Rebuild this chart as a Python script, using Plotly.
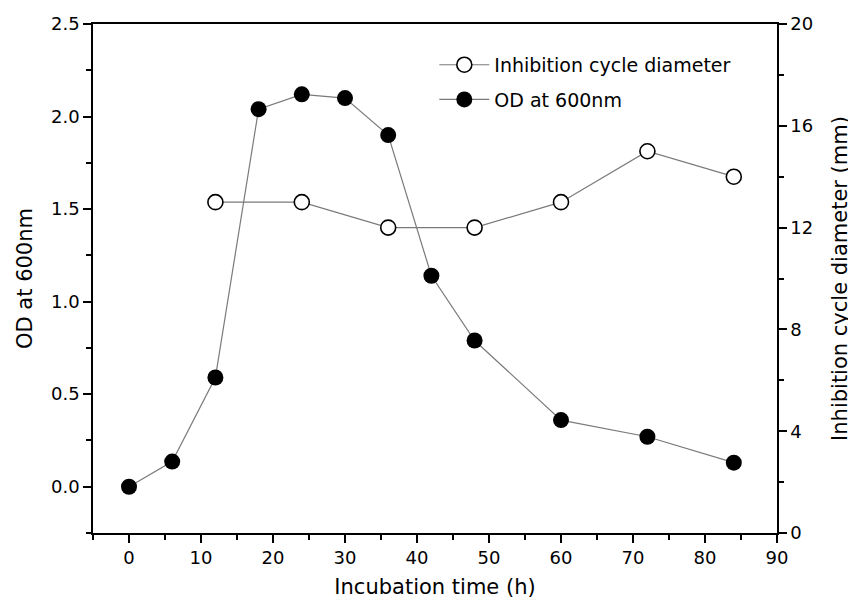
import plotly.graph_objects as go

# Data
time_od = [0, 6, 12, 18, 24, 30, 36, 42, 48, 60, 72, 84]
od600 = [0.0, 0.136, 0.59, 2.04, 2.12, 2.10, 1.90, 1.14, 0.79, 0.36, 0.27, 0.13]
time_inh = [12, 24, 36, 48, 60, 72, 84]
inhibition = [13.0, 13.0, 12.0, 12.0, 13.0, 15.0, 14.0]

x_ticks = [0, 10, 20, 30, 40, 50, 60, 70, 80, 90]
y_left_ticks = [0.0, 0.5, 1.0, 1.5, 2.0, 2.5]
y_right_ticks = [0, 4, 8, 12, 16, 20]

FONT = "DejaVu Sans"
LINE_COLOR = "#7a7a7a"

fig = go.Figure()

fig.add_trace(go.Scatter(
    x=time_inh, y=inhibition, yaxis="y2", mode="lines+markers",
    name="Inhibition cycle diameter", legendgroup="a",
    line=dict(color=LINE_COLOR, width=1.2),
    marker=dict(symbol="circle", size=15, color="white",
                line=dict(color="black", width=1.6)),
))
fig.add_trace(go.Scatter(
    x=time_od, y=od600, yaxis="y", mode="lines+markers",
    name="OD at 600nm", legendgroup="b",
    line=dict(color=LINE_COLOR, width=1.2),
    marker=dict(symbol="circle", size=16, color="black",
                line=dict(color="black", width=0)),
))

axis_common = dict(
    showline=True, linecolor="black", linewidth=1.5,
    ticks="outside", ticklen=8, tickwidth=1.5, tickcolor="black",
    showgrid=False, zeroline=False, automargin=False,
    tickfont=dict(family=FONT, size=18, color="black"),
)

fig.update_layout(
    width=848, height=600,
    margin=dict(l=85, r=79, t=16, b=75),
    paper_bgcolor="white", plot_bgcolor="white",
    font=dict(family=FONT, color="black"),
    xaxis=dict(
        range=[-5, 90], tickvals=x_ticks, mirror=True,
        title=dict(text="Incubation time (h)", font=dict(family=FONT, size=21), standoff=12),
        minor=dict(dtick=5, tick0=0, ticks="outside", ticklen=5, tickwidth=1.5, tickcolor="black"),
        **axis_common,
    ),
    yaxis=dict(
        range=[-0.25, 2.5], tickvals=y_left_ticks, tickformat=".1f",
        title=dict(text="OD at 600nm", font=dict(family=FONT, size=21), standoff=13),
        minor=dict(dtick=0.25, tick0=0, ticks="outside", ticklen=5, tickwidth=1.5, tickcolor="black"),
        **axis_common,
    ),
    yaxis2=dict(
        range=[0, 20], tickvals=y_right_ticks, overlaying="y", side="right",
        title=dict(text="Inhibition cycle diameter (mm)", font=dict(family=FONT, size=21), standoff=20),
        minor=dict(dtick=2, tick0=0, ticks="outside", ticklen=5, tickwidth=1.5, tickcolor="black"),
        **axis_common,
    ),
    legend=dict(
        x=0.499, y=0.957, xanchor="left", yanchor="top",
        bgcolor="rgba(0,0,0,0)", borderwidth=0,
        font=dict(family=FONT, size=19, color="black"),
        traceorder="grouped", tracegroupgap=7,
        itemwidth=50,
    ),
    showlegend=True,
)

fig.write_html("out.html")
